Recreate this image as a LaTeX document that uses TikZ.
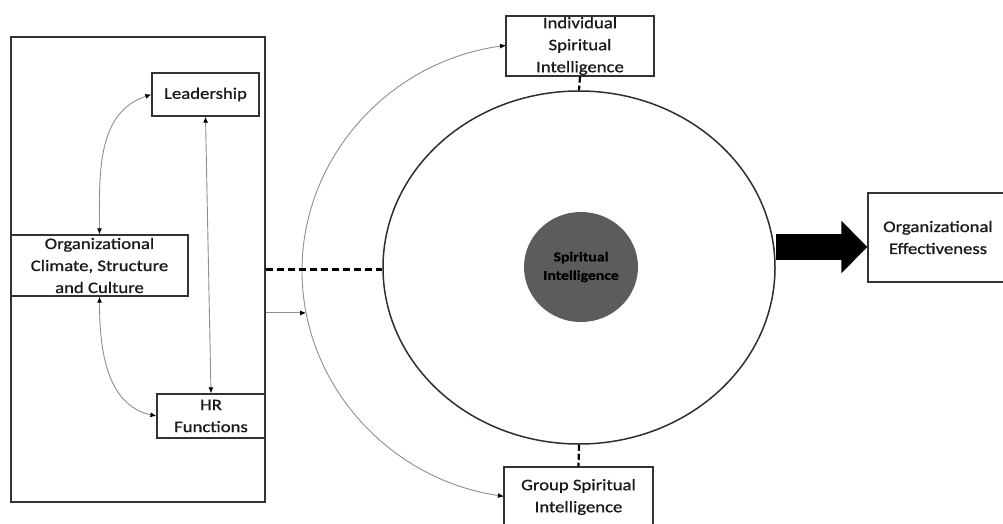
\documentclass[tikz,border=0pt]{standalone}
\usepackage{fontspec}
\setmainfont{Carlito}[FakeStretch=1.17,FakeBold=0.9]
\usetikzlibrary{arrows.meta,shapes.geometric,calc}

\definecolor{boxline}{HTML}{333333}
\definecolor{linkgray}{HTML}{8E8E8E}
\definecolor{textcol}{HTML}{1A1A1A}
\definecolor{coregray}{HTML}{5A5D5A}
\definecolor{ringline}{HTML}{2E2E2E}

\begin{document}
\begin{tikzpicture}[x=1pt,y=1pt,
  box/.style={draw=boxline, line width=1.3pt, fill=white, inner sep=0pt,
    align=center, text=textcol, font=\fontsize{16}{22}\selectfont},
  link/.style={draw=linkgray, line width=0.9pt},
  tipboth/.style={{Latex[length=6pt,width=5pt,color=black]}-{Latex[length=6pt,width=5pt,color=black]}},
  tipend/.style={-{Latex[length=6pt,width=5pt,color=black]}},
  dashlink/.style={draw=black, line width=2.2pt, dash pattern=on 7pt off 4pt},
]
\useasboundingbox (0,0) rectangle (1003,-524);

% left panel: organisational antecedents
\node[draw=boxline, line width=1.3pt, minimum width=254pt, minimum height=465pt,
      inner sep=0pt] (frame) at (138,-269.5) {};
\node[box, minimum width=107pt, minimum height=43pt] (lead) at (205.5,-94.5) {Leadership};
\node[box, minimum width=177pt, minimum height=61pt] (org) at (99.5,-265.5)
  {Organizational\\Climate, Structure\\and Culture};
\node[box, minimum width=108pt, minimum height=44pt] (hr) at (211,-416) {HR\\Functions};

\draw[link,tipboth] (lead.west) to[out=198,in=90] (org.north);
\draw[link,tipboth] (org.south) to[out=-90,in=168] (hr.west);
\draw[link,tipboth] (lead.south) -- (hr.north);

% central ring with the core
\node[draw=ringline, line width=1.5pt, ellipse, inner sep=0pt,
      minimum width=392pt, minimum height=353pt] (sint) at (579,-267.5) {};
\node[ellipse, fill=coregray, inner sep=0pt, minimum width=114pt, minimum height=110pt,
      align=center, font=\bfseries\fontsize{13.5}{18.5}\selectfont, text=black]
  (core) at (581,-267) {Spiritual\\Intelligence};

% individual and group levels
\node[box, minimum width=148pt, minimum height=60pt] (indiv) at (580,-46)
  {Individual\\Spiritual\\Intelligence};
\node[box, minimum width=149pt, minimum height=60pt] (group) at (578.5,-497)
  {Group Spiritual\\Intelligence};

% outer arc linking both levels
\coordinate (arcc) at (540,-271);
\coordinate (arcpt) at ($(arcc)+(190.6:238 and 228)$);
\draw[link,tipboth] ($(arcc)+(98.2:238 and 228)$)
  arc[start angle=98.2, end angle=261.3, x radius=238, y radius=228];
\draw[link,tipend] (frame.east |- arcpt) -- (arcpt);

% dashed links
\draw[dashlink] (frame.east) -- (frame.east -| sint.west);
\draw[dashlink, dash pattern=on 6pt off 3pt] (indiv.south) -- (sint.north);
\draw[dashlink, dash pattern=on 6pt off 3pt] (sint.south) -- (group.north);

% outcome
\node[box, minimum width=140pt, minimum height=89pt] (orgeff) at (938,-237.5)
  {Organizational\\Effectiveness};
\coordinate (tip) at ($(orgeff.west)+(0,-9.5)$);
\draw[line width=26pt, -{Triangle[length=26pt,width=51pt]}] (sint.east |- tip) -- (tip);
\end{tikzpicture}
\end{document}
